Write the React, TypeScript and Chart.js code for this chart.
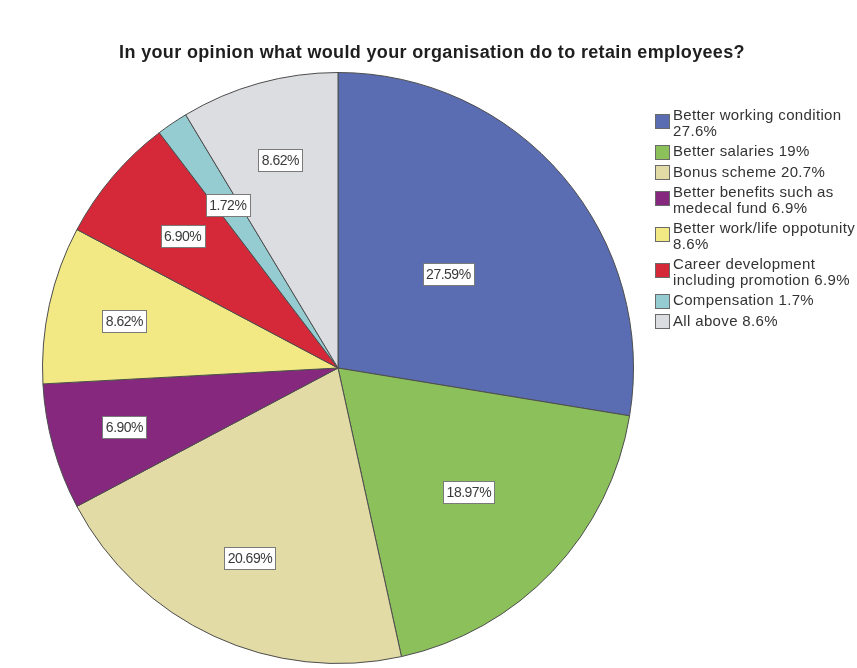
import React, { useEffect, useRef } from "react";
import { Chart, registerables } from "chart.js";

Chart.register(...registerables);

const titleText = "In your opinion what would your organisation do to retain employees?";

const categories = [
  "Better working condition",
  "Better salaries",
  "Bonus scheme",
  "Better benefits such as medecal fund",
  "Better work/life oppotunity",
  "Career development including promotion",
  "Compensation",
  "All above",
];

const percentValues = [27.59, 18.97, 20.69, 6.9, 8.62, 6.9, 1.72, 8.62];

const sliceLabels = ["27.59%", "18.97%", "20.69%", "6.90%", "8.62%", "6.90%", "1.72%", "8.62%"];

const legendLines = [
  ["Better working condition", "27.6%"],
  ["Better salaries 19%"],
  ["Bonus scheme 20.7%"],
  ["Better benefits such as", "medecal fund 6.9%"],
  ["Better work/life oppotunity", "8.6%"],
  ["Career development", "including promotion 6.9%"],
  ["Compensation 1.7%"],
  ["All above 8.6%"],
];

const sliceColors = [
  "#5a6db3",
  "#8bc05a",
  "#e3dba6",
  "#86287e",
  "#f2e984",
  "#d5293a",
  "#95ccd2",
  "#dcdde1",
];

// label distance from centre, as a fraction of the radius (layout only)
const labelRadiusFrac = [0.49, 0.61, 0.71, 0.75, 0.74, 0.69, 0.665, 0.73];

const FONT = '"Liberation Sans", Arial, sans-serif';

const overlayPlugin = {
  id: "overlay",
  afterDatasetsDraw(chart: any) {
    const ctx = chart.ctx as CanvasRenderingContext2D;
    const meta = chart.getDatasetMeta(0);
    ctx.save();
    // slice value labels
    ctx.font = `14px ${FONT}`;
    (ctx as any).letterSpacing = "-0.5px";
    ctx.textAlign = "center";
    ctx.textBaseline = "middle";
    meta.data.forEach((arc: any, i: number) => {
      const p = arc.getProps(["x", "y", "startAngle", "endAngle", "outerRadius"], true);
      const mid = (p.startAngle + p.endAngle) / 2;
      const r = p.outerRadius * labelRadiusFrac[i];
      const lx = p.x + Math.cos(mid) * r;
      const ly = p.y + Math.sin(mid) * r;
      const text = sliceLabels[i];
      const w = ctx.measureText(text).width + 7;
      const h = 22;
      const bx = Math.round(lx - w / 2);
      const by = Math.round(ly - h / 2);
      ctx.fillStyle = "#ffffff";
      ctx.fillRect(bx, by, Math.round(w), h);
      ctx.strokeStyle = "#7a7a7a";
      ctx.lineWidth = 1;
      ctx.strokeRect(bx + 0.5, by + 0.5, Math.round(w), h);
      ctx.fillStyle = "#3a3a3a";
      ctx.fillText(text, lx, ly + 1);
    });

    // title
    ctx.font = `bold 18px ${FONT}`;
    (ctx as any).letterSpacing = "0.35px";
    ctx.fillStyle = "#1e1e1e";
    ctx.textAlign = "center";
    ctx.textBaseline = "middle";
    ctx.fillText(titleText, 432, 53);

    // legend
    const swX = 655;
    const sw = 15;
    const textX = 673;
    const lineH = 15.5;
    const gap = 5;
    let y = 116;
    ctx.font = `15px ${FONT}`;
    (ctx as any).letterSpacing = "0.35px";
    ctx.textAlign = "left";
    legendLines.forEach((lines, i) => {
      const swCenter = y + (lines.length - 1) * 5.5;
      ctx.fillStyle = sliceColors[i];
      ctx.fillRect(swX, Math.round(swCenter - sw / 2), sw, sw);
      ctx.strokeStyle = "#6a6a6a";
      ctx.lineWidth = 1;
      ctx.strokeRect(swX + 0.5, Math.round(swCenter - sw / 2) + 0.5, sw - 1, sw - 1);
      ctx.fillStyle = "#333333";
      lines.forEach((ln, j) => {
        ctx.fillText(ln, textX, y + j * lineH);
      });
      y += lines.length * lineH + gap;
    });
    (ctx as any).letterSpacing = "0px";
    ctx.restore();
  },
};

const bgPlugin = {
  id: "bg",
  beforeDraw(chart: any) {
    const ctx = chart.ctx;
    ctx.save();
    ctx.fillStyle = "#ffffff";
    ctx.fillRect(0, 0, chart.width, chart.height);
    ctx.restore();
  },
};

export default function App() {
  const canvasRef = useRef<HTMLCanvasElement | null>(null);

  useEffect(() => {
    if (!canvasRef.current) return;
    const chart = new Chart(canvasRef.current, {
      type: "pie",
      data: {
        labels: categories,
        datasets: [
          {
            data: percentValues,
            backgroundColor: sliceColors,
            borderColor: "#4d4d4d",
            borderWidth: 1,
          },
        ],
      },
      options: {
        responsive: false,
        animation: false,
        layout: { padding: { left: 42, right: 223, top: 72, bottom: 4 } },
        plugins: {
          legend: { display: false },
          title: { display: false },
          tooltip: { enabled: false },
        },
      },
      plugins: [bgPlugin, overlayPlugin],
    });
    return () => chart.destroy();
  }, []);

  return (
    <div style={{ position: "absolute", left: 0, top: 0, width: 857, height: 668, background: "#fff" }}>
      <canvas ref={canvasRef} width={857} height={668} style={{ display: "block", width: 857, height: 668 }} />
    </div>
  );
}
